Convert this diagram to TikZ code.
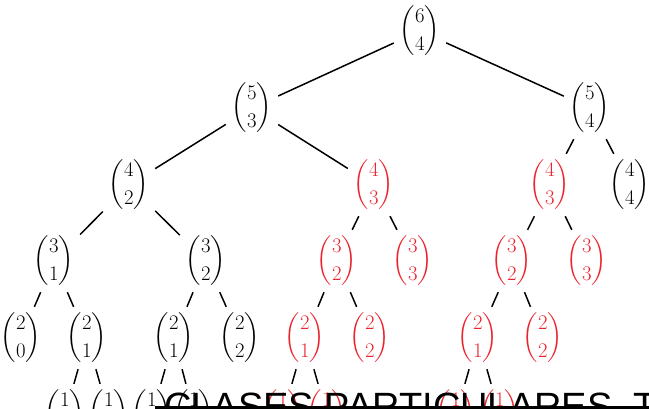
\documentclass[tikz,border=0pt]{standalone}
\usepackage{amsmath}
\usepackage{fontspec}
\newfontfamily\overlayfont{Liberation Sans}
\definecolor{hl}{RGB}{235,35,45}
\newcommand\Bnm[2]{$\displaystyle\binom{#1}{#2}$}
\begin{document}
\begin{tikzpicture}[x=1pt,y=-1pt,
  bn/.style={minimum width=52pt,minimum height=62pt,inner sep=0pt,font=\fontsize{21.5}{26}\selectfont},
  hlbn/.style={bn,text=hl},
  edgeline/.style={draw=black,line width=1.5pt},
  banner/.style={anchor=base west,inner sep=0pt,font=\overlayfont\fontsize{38}{40}\selectfont}]
\useasboundingbox (0,0) rectangle (649,408);
% level 0
\node[bn] (a) at (420,31) {\Bnm{6}{4}};
% level 1
\node[bn] (b1) at (252,108) {\Bnm{5}{3}};
\node[bn] (b2) at (590,108) {\Bnm{5}{4}};
% level 2
\node[bn] (c1) at (129,185) {\Bnm{4}{2}};
\node[hlbn] (c2) at (374,185) {\Bnm{4}{3}};
\node[hlbn] (c3) at (550,185) {\Bnm{4}{3}};
\node[bn] (c4) at (630,185) {\Bnm{4}{4}};
% level 3
\node[bn] (d1) at (54,261) {\Bnm{3}{1}};
\node[bn] (d2) at (206,261) {\Bnm{3}{2}};
\node[hlbn] (d3) at (337,261) {\Bnm{3}{2}};
\node[hlbn] (d4) at (413,261) {\Bnm{3}{3}};
\node[hlbn] (d5) at (512,261) {\Bnm{3}{2}};
\node[hlbn] (d6) at (587,261) {\Bnm{3}{3}};
% level 4
\node[bn] (e1) at (21,338) {\Bnm{2}{0}};
\node[bn] (e2) at (87,338) {\Bnm{2}{1}};
\node[bn] (e3) at (174,338) {\Bnm{2}{1}};
\node[bn] (e4) at (240,338) {\Bnm{2}{2}};
\node[hlbn] (e5) at (305,338) {\Bnm{2}{1}};
\node[hlbn] (e6) at (370,338) {\Bnm{2}{2}};
\node[hlbn] (e7) at (478,338) {\Bnm{2}{1}};
\node[hlbn] (e8) at (543,338) {\Bnm{2}{2}};
% level 5
\node[bn] (f1) at (65,415) {\Bnm{1}{0}};
\node[bn] (f2) at (109,415) {\Bnm{1}{1}};
\node[bn] (f3) at (152,415) {\Bnm{1}{0}};
\node[bn] (f4) at (194,415) {\Bnm{1}{1}};
\node[hlbn] (f5) at (283,415) {\Bnm{1}{0}};
\node[hlbn] (f6) at (327,415) {\Bnm{1}{1}};
\node[hlbn] (f7) at (456,415) {\Bnm{1}{0}};
\node[hlbn] (f8) at (500,415) {\Bnm{1}{1}};
% edges
\foreach \p/\c in {a/b1,a/b2,b1/c1,b1/c2,b2/c3,b2/c4,
  c1/d1,c1/d2,c2/d3,c2/d4,c3/d5,c3/d6,
  d1/e1,d1/e2,d2/e3,d2/e4,d3/e5,d3/e6,d5/e7,d5/e8,
  e2/f1,e2/f2,e3/f3,e3/f4,e5/f5,e5/f6,e7/f7,e7/f8}
  \draw[edgeline] (\p) -- (\c);
% overlay banner
\coordinate (barL) at (155,405.5);
\coordinate (barR) at (649,410);
\fill[black] (barL) rectangle (barR);
\node[banner] (bannertext) at (164,419) {CLASES PARTICULARES, T};
\end{tikzpicture}
\end{document}
